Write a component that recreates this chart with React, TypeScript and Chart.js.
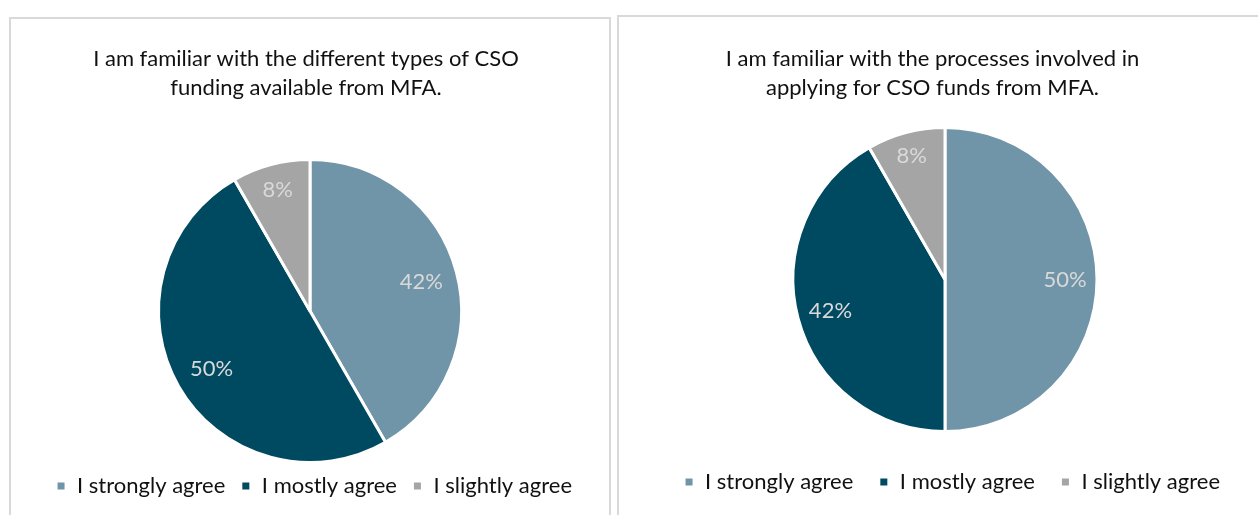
import React, { useEffect, useRef } from "react";
import { Chart, registerables } from "chart.js";

Chart.register(...registerables);

// ---- data ----
const categories = ["I strongly agree", "I mostly agree", "I slightly agree"];
const chart1Title = ["I am familiar with the different types of CSO", "funding available from MFA."];
const chart1Values = [41.7, 50, 8.3];
const chart2Title = ["I am familiar with the processes involved in", "applying for CSO funds from MFA."];
const chart2Values = [50, 41.7, 8.3];

// ---- style ----
const sliceColors = ["#7195A8", "#004A61", "#A5A5A5"];
const FONT = "Lato, 'Noto Sans', sans-serif";
const FONT_SIZE = 22;
const TEXT_COLOR = "#111111";
const LABEL_COLOR = "#D9D9D9";

const customTextPlugin = {
  id: "customText",
  afterDraw(chart: any, _args: any, opts: any) {
    const ctx = chart.ctx;
    ctx.save();
    ctx.font = `${FONT_SIZE}px ${FONT}`;
    ctx.textAlign = "center";
    ctx.textBaseline = "alphabetic";
    ctx.fillStyle = TEXT_COLOR;
    (opts.title as string[]).forEach((line, i) => {
      ctx.fillText(line, opts.titleX, opts.titleY + i * opts.titleLH);
    });
    const meta = chart.getDatasetMeta(0);
    const values = chart.data.datasets[0].data as number[];
    ctx.fillStyle = LABEL_COLOR;
    meta.data.forEach((arc: any, i: number) => {
      const p = arc.getProps(["x", "y", "startAngle", "endAngle", "outerRadius"], true);
      const mid = (p.startAngle + p.endAngle) / 2;
      const r = p.outerRadius * opts.labelR[i];
      const lx = p.x + Math.cos(mid) * r;
      const ly = p.y + Math.sin(mid) * r;
      ctx.fillText(`${Math.round(values[i])}%`, lx, ly + FONT_SIZE * 0.36);
    });
    ctx.restore();
  },
};

type PanelProps = {
  left: number;
  top: number;
  width: number;
  height: number;
  canvasW: number;
  canvasH: number;
  title: string[];
  values: number[];
  titleX: number;
  titleY: number;
  labelR: number[];
  padTop: number;
  padBottom: number;
  padLeft: number;
  padRight: number;
  radius: number;
  legendGap: number;
};

function Panel(props: PanelProps) {
  const ref = useRef<HTMLCanvasElement | null>(null);
  useEffect(() => {
    if (!ref.current) return;
    const chart = new Chart(ref.current, {
      type: "pie",
      data: {
        labels: categories,
        datasets: [
          {
            data: props.values,
            backgroundColor: sliceColors,
            borderColor: "#FFFFFF",
            borderWidth: 3,
            clip: false as any,
          },
        ],
      },
      options: {
        responsive: false,
        animation: false,
        radius: props.radius,
        layout: {
          padding: {
            top: props.padTop,
            bottom: props.padBottom,
            left: props.padLeft,
            right: props.padRight,
          },
        },
        plugins: {
          title: { display: false },
          tooltip: { enabled: false },
          legend: {
            display: true,
            position: "bottom",
            align: "end",
            labels: {
              boxWidth: 10,
              boxHeight: 10,
              padding: props.legendGap,
              color: TEXT_COLOR,
              font: { family: FONT, size: FONT_SIZE },
            },
          },
          customText: {
            title: props.title,
            titleX: props.titleX,
            titleY: props.titleY,
            titleLH: 29,
            labelR: props.labelR,
          },
        } as any,
      } as any,
      plugins: [customTextPlugin],
    });
    return () => chart.destroy();
  }, []);
  return (
    <div
      style={{
        position: "absolute",
        left: props.left,
        top: props.top,
        width: props.width,
        height: props.height,
        border: "2px solid #D9D9D9",
        boxSizing: "border-box",
        background: "#FFFFFF",
      }}
    >
      <canvas
        ref={ref}
        width={props.canvasW}
        height={props.canvasH}
        style={{ position: "absolute", left: 0, top: 0, width: props.canvasW, height: props.canvasH }}
      />
    </div>
  );
}

export default function App() {
  return (
    <div
      style={{
        position: "fixed",
        left: 0,
        top: 0,
        width: 1258,
        height: 515,
        overflow: "hidden",
        background: "#FFFFFF",
      }}
    >
      <Panel
        left={9}
        top={17}
        width={602}
        height={600}
        canvasW={609}
        canvasH={496}
        title={chart1Title}
        values={chart1Values}
        titleX={295}
        titleY={46.5}
        labelR={[0.76, 0.75, 0.83]}
        padTop={143.5}
        padBottom={8}
        padLeft={21.5}
        padRight={32.5}
        radius={151.5}
        legendGap={15.5}
      />
      <Panel
        left={617}
        top={15}
        width={690}
        height={600}
        canvasW={679}
        canvasH={498}
        title={chart2Title}
        values={chart2Values}
        titleX={313.5}
        titleY={49}
        labelR={[0.79, 0.78, 0.85]}
        padTop={96.5}
        padBottom={12}
        padLeft={25.5}
        padRight={52.5}
        radius={152}
        legendGap={25.5}
      />
    </div>
  );
}
